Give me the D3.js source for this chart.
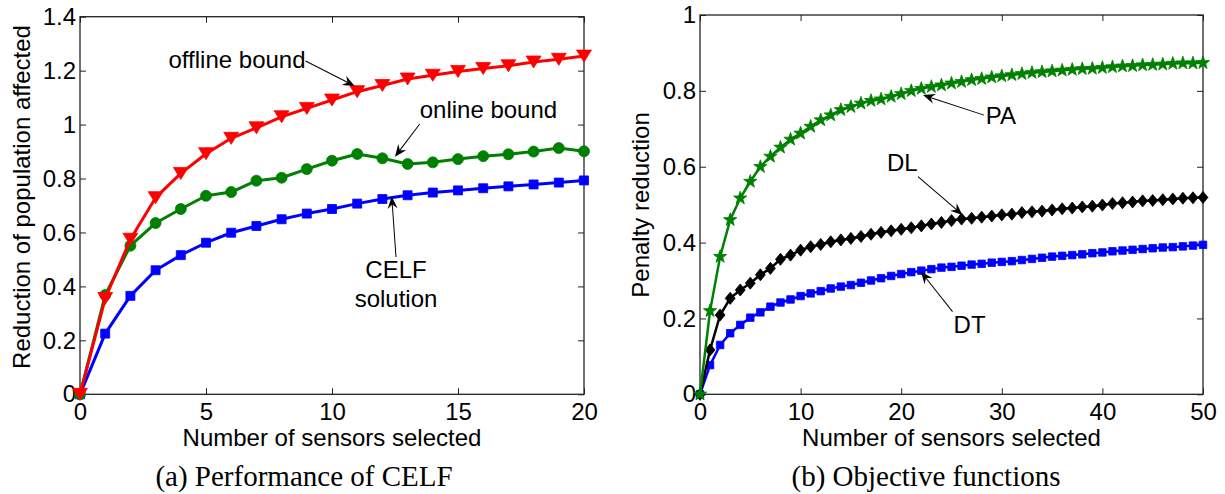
<!DOCTYPE html>
<html>
<head>
<meta charset="utf-8">
<script src="https://cdn.jsdelivr.net/npm/d3@7"></script>
<style>
  body { margin: 0; background: #fff; }
  svg { display: block; }
  text { font-family: "Liberation Sans", Arial, Helvetica, sans-serif; fill: #000; }
</style>
</head>
<body>
<svg id="chart" width="1225" height="494"></svg>
<script>
// ---- Panel (a): performance of CELF, sensors 0..20 ----
const sensorsA = d3.range(0, 21);
const offlineBound = [0, 0.355, 0.575, 0.729, 0.819, 0.892, 0.949, 0.988, 1.029, 1.060, 1.091,
  1.122, 1.145, 1.169, 1.183, 1.197, 1.208, 1.218, 1.232, 1.242, 1.254];
const onlineBound = [0, 0.368, 0.551, 0.635, 0.687, 0.736, 0.750, 0.792, 0.803, 0.835, 0.866,
  0.891, 0.875, 0.854, 0.860, 0.872, 0.883, 0.890, 0.900, 0.913, 0.901];
const celfSolution = [0, 0.225, 0.365, 0.460, 0.516, 0.562, 0.599, 0.624, 0.649, 0.670, 0.687,
  0.707, 0.724, 0.738, 0.748, 0.756, 0.764, 0.771, 0.778, 0.785, 0.793];
const xTicksA = [0, 5, 10, 15, 20];
const yTicksA = [0, 0.2, 0.4, 0.6, 0.8, 1, 1.2, 1.4];

// ---- Panel (b): objective functions, sensors 0..50 ----
const sensorsB = d3.range(0, 51);
const penaltyPA = [0, 0.220, 0.363, 0.460, 0.517, 0.561, 0.600, 0.627, 0.651, 0.672, 0.688,
  0.706, 0.723, 0.736, 0.750, 0.758, 0.767, 0.774, 0.778, 0.785, 0.792,
  0.800, 0.806, 0.811, 0.815, 0.820, 0.824, 0.829, 0.832, 0.836, 0.839,
  0.842, 0.845, 0.848, 0.850, 0.852, 0.854, 0.856, 0.858, 0.859, 0.861,
  0.863, 0.865, 0.866, 0.868, 0.869, 0.870, 0.872, 0.873, 0.873, 0.874];
const penaltyDL = [0, 0.117, 0.209, 0.253, 0.275, 0.293, 0.315, 0.332, 0.356, 0.367, 0.380,
  0.389, 0.395, 0.402, 0.407, 0.411, 0.416, 0.422, 0.427, 0.431, 0.435,
  0.439, 0.444, 0.449, 0.453, 0.458, 0.462, 0.464, 0.467, 0.470, 0.473,
  0.475, 0.479, 0.481, 0.483, 0.486, 0.489, 0.491, 0.494, 0.496, 0.499,
  0.503, 0.505, 0.507, 0.510, 0.511, 0.513, 0.515, 0.517, 0.518, 0.519];
const penaltyDT = [0, 0.077, 0.130, 0.161, 0.183, 0.202, 0.216, 0.231, 0.242, 0.250, 0.259,
  0.266, 0.272, 0.279, 0.284, 0.288, 0.294, 0.300, 0.306, 0.312, 0.317,
  0.322, 0.326, 0.330, 0.334, 0.336, 0.339, 0.342, 0.344, 0.347, 0.349,
  0.351, 0.354, 0.357, 0.360, 0.363, 0.365, 0.367, 0.369, 0.372, 0.374,
  0.377, 0.379, 0.381, 0.383, 0.385, 0.387, 0.388, 0.390, 0.392, 0.394];
const xTicksB = [0, 10, 20, 30, 40, 50];
const yTicksB = [0, 0.2, 0.4, 0.6, 0.8, 1];

// ---- marker shapes (path strings centred on the point) ----
const markers = {
  triDown: s => `M${-s * 0.62},${-s * 0.5}L${s * 0.62},${-s * 0.5}L0,${s * 0.5}Z`,
  circle: s => `M${s / 2},0A${s / 2},${s / 2} 0 1,1 ${-s / 2},0A${s / 2},${s / 2} 0 1,1 ${s / 2},0Z`,
  square: s => `M${-s / 2},${-s / 2}H${s / 2}V${s / 2}H${-s / 2}Z`,
  diamond: s => `M0,${-s * 0.55}L${s * 0.45},0L0,${s * 0.55}L${-s * 0.45},0Z`,
  star: s => {
    const R = s / 2, r = R * 0.4, pts = [];
    for (let i = 0; i < 10; i++) {
      const a = -Math.PI / 2 + i * Math.PI / 5, rad = i % 2 ? r : R;
      pts.push([rad * Math.cos(a), rad * Math.sin(a)]);
    }
    return "M" + pts.map(p => p[0].toFixed(2) + "," + p[1].toFixed(2)).join("L") + "Z";
  }
};

const svg = d3.select("#chart");

function drawPanel(cfg) {
  const x = d3.scaleLinear().domain(cfg.xDomain).range([cfg.left, cfg.right]);
  const y = d3.scaleLinear().domain(cfg.yDomain).range([cfg.bottom, cfg.top]);
  const g = svg.append("g");
  const fmt = d3.format("~g");

  // axes with inward ticks on all four sides
  const styleAxis = sel => {
    sel.select(".domain").remove();
    sel.selectAll(".tick line").attr("stroke", "#222").attr("stroke-width", 1);
    sel.selectAll("text").attr("font-size", 24).attr("font-family", '"Liberation Sans", Arial, sans-serif').attr("fill", "#000");
  };
  g.append("g").attr("transform", `translate(0,${cfg.bottom})`)
    .call(d3.axisBottom(x).tickValues(cfg.xTicks).tickSize(-6).tickPadding(9).tickFormat(fmt))
    .call(styleAxis);
  g.append("g").attr("transform", `translate(0,${cfg.top})`)
    .call(d3.axisTop(x).tickValues(cfg.xTicks).tickSize(-6).tickFormat(""))
    .call(styleAxis);
  g.append("g").attr("transform", `translate(${cfg.left},0)`)
    .call(d3.axisLeft(y).tickValues(cfg.yTicks).tickSize(-6).tickPadding(4).tickFormat(fmt))
    .call(styleAxis);
  g.append("g").attr("transform", `translate(${cfg.right},0)`)
    .call(d3.axisRight(y).tickValues(cfg.yTicks).tickSize(-6).tickFormat(""))
    .call(styleAxis);

  g.append("rect")
    .attr("x", cfg.left).attr("y", cfg.top)
    .attr("width", cfg.right - cfg.left).attr("height", cfg.bottom - cfg.top)
    .attr("fill", "none").attr("stroke", "#222").attr("stroke-width", 1.3);

  // series
  cfg.series.forEach(s => {
    const pts = cfg.xs.map((v, i) => [v, s.values[i]]);
    g.append("path").datum(pts)
      .attr("d", d3.line().x(d => x(d[0])).y(d => y(d[1])))
      .attr("fill", "none").attr("stroke", s.color)
      .attr("stroke-width", cfg.lineWidth).attr("stroke-linejoin", "round");
    g.append("g").selectAll("path").data(pts).join("path")
      .attr("transform", d => `translate(${x(d[0])},${y(d[1])})`)
      .attr("d", markers[s.marker](s.size))
      .attr("fill", s.color).attr("stroke", s.color).attr("stroke-width", 0.8);
  });

  // text-arrow annotations
  cfg.notes.forEach(n => {
    n.lines.forEach(l => {
      g.append("text").attr("x", x(l.at[0])).attr("y", y(l.at[1]))
        .attr("text-anchor", l.anchor).attr("font-size", 24).text(l.text);
    });
    const x1 = x(n.from[0]), y1 = y(n.from[1]), x2 = x(n.to[0]), y2 = y(n.to[1]);
    const ang = Math.atan2(y2 - y1, x2 - x1) * 180 / Math.PI;
    const len = Math.hypot(x2 - x1, y2 - y1);
    const ag = g.append("g").attr("transform", `translate(${x1},${y1}) rotate(${ang})`);
    ag.append("line").attr("x1", 0).attr("y1", 0).attr("x2", len - 6).attr("y2", 0)
      .attr("stroke", "#000").attr("stroke-width", 1);
    ag.append("path")
      .attr("d", `M${len},0L${len - 12},-5L${len - 8},0L${len - 12},5Z`)
      .attr("fill", "#000");
  });

  // axis titles and caption
  g.append("text").attr("x", (cfg.left + cfg.right) / 2).attr("y", 446)
    .attr("text-anchor", "middle").attr("font-size", 24).text("Number of sensors selected");
  g.append("text").attr("transform", `translate(${cfg.ylabelX},${cfg.ylabelY}) rotate(-90)`)
    .attr("text-anchor", "middle").attr("font-size", 24).text(cfg.ylabel);
  g.append("text").attr("x", cfg.captionX).attr("y", 486)
    .attr("text-anchor", "middle").attr("font-size", 29)
    .style("font-family", '"Liberation Serif", "Times New Roman", serif')
    .text(cfg.caption);
}

drawPanel({
  left: 80, right: 584, top: 16.7, bottom: 394.3,
  xDomain: [0, 20], yDomain: [0, 1.4], xTicks: xTicksA, yTicks: yTicksA,
  xs: sensorsA, lineWidth: 3,
  series: [
    { values: celfSolution, color: "#0000ff", marker: "square", size: 9 },
    { values: onlineBound, color: "#008000", marker: "circle", size: 11 },
    { values: offlineBound, color: "#ff0000", marker: "triDown", size: 12 }
  ],
  notes: [
    { lines: [{ text: "offline bound", at: [8.95, 1.210], anchor: "end" }], from: [8.95, 1.236], to: [10.9, 1.143] },
    { lines: [{ text: "online bound", at: [13.48, 1.024], anchor: "start" }], from: [13.48, 1.002], to: [12.5, 0.881] },
    { lines: [{ text: "CELF", at: [12.54, 0.431], anchor: "middle" }, { text: "solution", at: [12.54, 0.324], anchor: "middle" }],
      from: [12.54, 0.509], to: [12.37, 0.733] }
  ],
  ylabel: "Reduction of population affected", ylabelX: 30, ylabelY: 197,
  caption: "(a) Performance of CELF", captionX: 304
});

drawPanel({
  left: 700, right: 1203, top: 15, bottom: 394.3,
  xDomain: [0, 50], yDomain: [0, 1], xTicks: xTicksB, yTicks: yTicksB,
  xs: sensorsB, lineWidth: 2.5,
  series: [
    { values: penaltyDT, color: "#0000ff", marker: "square", size: 7.5 },
    { values: penaltyDL, color: "#000000", marker: "diamond", size: 11 },
    { values: penaltyPA, color: "#008000", marker: "star", size: 14 }
  ],
  notes: [
    { lines: [{ text: "PA", at: [28.41, 0.713], anchor: "start" }], from: [28.23, 0.736], to: [22.17, 0.789] },
    { lines: [{ text: "DL", at: [18.59, 0.590], anchor: "start" }], from: [21.67, 0.574], to: [26.09, 0.473] },
    { lines: [{ text: "DT", at: [25.21, 0.162], anchor: "start" }], from: [25.10, 0.218], to: [21.97, 0.323] }
  ],
  ylabel: "Penalty reduction", ylabelX: 649, ylabelY: 205,
  caption: "(b) Objective functions", captionX: 926
});
</script>
</body>
</html>
